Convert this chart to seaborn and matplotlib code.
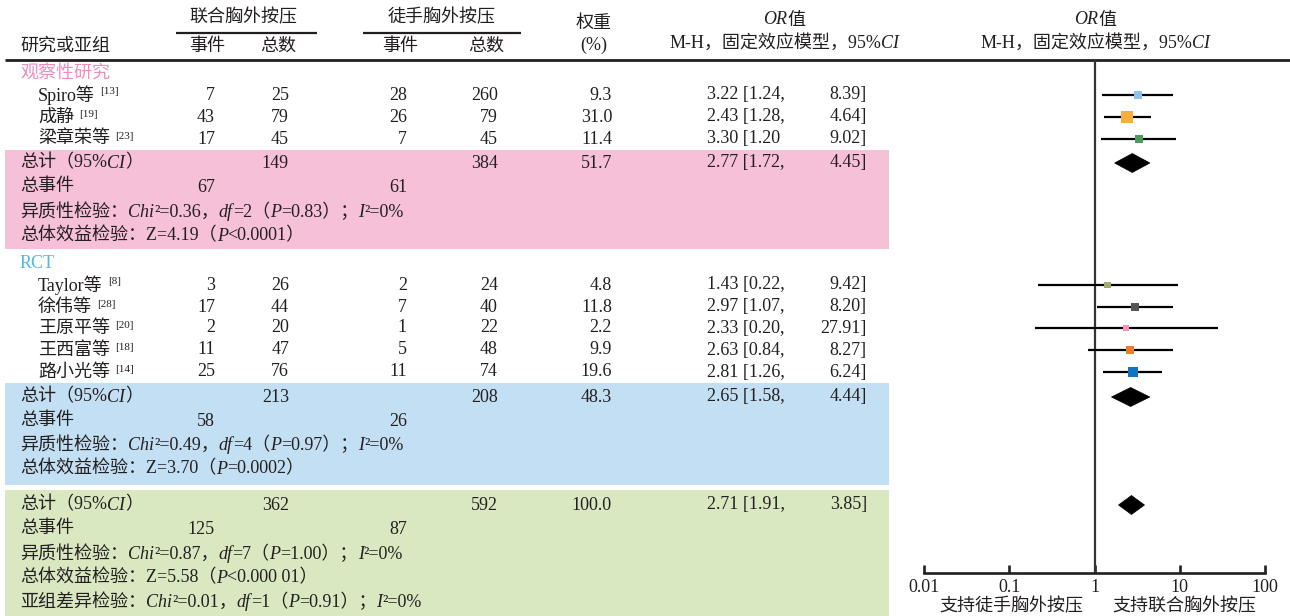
import numpy as np
import pandas as pd
import matplotlib
matplotlib.use("Agg")
import matplotlib.pyplot as plt
import seaborn as sns
from matplotlib.offsetbox import TextArea, HPacker, AnnotationBbox
from matplotlib.patches import Polygon, Rectangle

# ---------------- data ----------------
obs_names = ["Spiro等", "成静", "梁章荣等"]
obs_refs = ["[13]", "[19]", "[23]"]
obs_exp_events = [7, 43, 17]
obs_exp_total = [25, 79, 45]
obs_ctl_events = [28, 26, 7]
obs_ctl_total = [260, 79, 45]
obs_weight = [9.3, 31.0, 11.4]
obs_or = [3.22, 2.43, 3.30]
obs_lo = [1.24, 1.28, 1.20]
obs_hi = [8.39, 4.64, 9.02]

rct_names = ["Taylor等", "徐伟等", "王原平等", "王西富等", "路小光等"]
rct_refs = ["[8]", "[28]", "[20]", "[18]", "[14]"]
rct_exp_events = [3, 17, 2, 11, 25]
rct_exp_total = [26, 44, 20, 47, 76]
rct_ctl_events = [2, 7, 1, 5, 11]
rct_ctl_total = [24, 40, 22, 48, 74]
rct_weight = [4.8, 11.8, 2.2, 9.9, 19.6]
rct_or = [1.43, 2.97, 2.33, 2.63, 2.81]
rct_lo = [0.22, 1.07, 0.20, 0.84, 1.26]
rct_hi = [9.42, 8.20, 27.91, 8.27, 6.24]

# pooled results: observational, RCT, overall
sum_exp_total = [149, 213, 362]
sum_ctl_total = [384, 208, 592]
sum_exp_events = [67, 58, 125]
sum_ctl_events = [61, 26, 87]
sum_weight = [51.7, 48.3, 100.0]
sum_or = [2.77, 2.65, 2.71]
sum_lo = [1.72, 1.58, 1.91]
sum_hi = [4.45, 4.44, 3.85]
het_chi2 = ["0.36", "0.49", "0.87"]
het_df = [2, 4, 7]
het_p = ["0.83", "0.97", "1.00"]
het_i2 = [0, 0, 0]
eff_z = ["4.19", "3.70", "5.58"]
eff_p = ["<0.0001", "=0.0002", "<0.000 01"]
sub_chi2, sub_df, sub_p, sub_i2 = "0.01", 1, "0.91", 0

group_labels = ["观察性研究", "RCT"]
study_colors = ["#8cc3ea", "#f9ad3d", "#4c9b5c",
                "#a3ad6a", "#555555", "#f590c0", "#f27a2d", "#1473c0"]
x_ticks = [0.01, 0.1, 1, 10, 100]
x_ticklabels = ["0.01", "0.1", "1", "10", "100"]

# ---------------- style ----------------
sns.set_theme(style="white")
FAM = ["Liberation Serif", "Noto Sans CJK SC"]
plt.rcParams["font.family"] = FAM
plt.rcParams["axes.unicode_minus"] = False
TXT = "#231f20"
FS = 13

W, H = 1290, 616
fig = plt.figure(figsize=(W / 100, H / 100), dpi=100)
ax = fig.add_axes([0, 0, 1, 1])
ax.set_xlim(0, W)
ax.set_ylim(H, 0)
ax.axis("off")

# column anchors (layout)
X_NAME, X_STUDY = 20, 38
X_E1, X_T1, X_E2, X_T2 = 215, 289, 407, 498
X_W, X_CI_L, X_CI_R = 612, 707, 867

# row layout (y from top)
Y_LINE = 60
obs_label_y, rct_label_y = 73, 264
obs_rows_y = [95, 117, 139]
rct_rows_y = [285, 307, 328, 350, 372]
box_spans = [(150, 249), (383, 485), (490, 616)]
box_colors = ["#f5c0d8", "#c3dff3", "#d9e8c1"]
stat_rows_y = [[163, 187, 212, 236], [397, 421, 445, 469], [505, 529, 554, 578, 602]]


def txt(x, y, s, ha="left", **kw):
    kw.setdefault("size", FS)
    kw.setdefault("color", TXT)
    return ax.text(x, y, s, ha=ha, va="center", **kw)


def rich(x, y, parts, align=0.0, size=FS):
    kids = [TextArea(s, textprops=dict(family=FAM, size=size, color=TXT,
                                       fontstyle="italic" if it else "normal"))
            for s, it in parts]
    box = HPacker(children=kids, align="baseline", pad=0, sep=0)
    ab = AnnotationBbox(box, (x, y), xycoords="data", box_alignment=(align, 0.5),
                        frameon=False, pad=0)
    ax.add_artist(ab)


def ci_text(y, o, lo, hi, sep=","):
    txt(X_CI_L, y, f"{o:.2f} [{lo:.2f}{sep}")
    txt(X_CI_R, y, f"{hi:.2f}]", ha="right")


# shaded summary blocks
for (y0, y1), c in zip(box_spans, box_colors):
    ax.add_patch(Rectangle((5, y0), 884, y1 - y0, facecolor=c, edgecolor="none", zorder=0))

# header
txt(243, 18, "联合胸外按压", ha="center")
txt(442, 18, "徒手胸外按压", ha="center")
ax.plot([176, 317], [33, 33], color=TXT, lw=1.6, solid_capstyle="butt")
ax.plot([363, 521], [33, 33], color=TXT, lw=1.6, solid_capstyle="butt")
txt(X_NAME, 46, "研究或亚组")
for xc, s in [(207, "事件"), (278, "总数"), (400, "事件"), (486, "总数")]:
    txt(xc, 46, s, ha="center")
txt(594, 23, "权重", ha="center")
txt(594, 45, "(%)", ha="center")
for xc in (784, 1095):
    rich(xc, 20, [("OR", True), ("值", False)], align=0.5)
    rich(xc, 43, [("M-H，固定效应模型，95%", False), ("CI", True)], align=0.5)
ax.plot([5, W], [Y_LINE, Y_LINE], color=TXT, lw=2.0, solid_capstyle="butt")

# study rows
groups = [
    (group_labels[0], "#f08cbf", obs_label_y, obs_rows_y, obs_names, obs_refs, obs_exp_events,
     obs_exp_total, obs_ctl_events, obs_ctl_total, obs_weight, obs_or, obs_lo, obs_hi),
    (group_labels[1], "#4fb9e6", rct_label_y, rct_rows_y, rct_names, rct_refs, rct_exp_events,
     rct_exp_total, rct_ctl_events, rct_ctl_total, rct_weight, rct_or, rct_lo, rct_hi),
]
for (lab, lc, ly, rows, names, refs, e1, t1, e2, t2, wt, o, lo, hi) in groups:
    txt(X_NAME, ly, lab, color=lc)
    for i, y in enumerate(rows):
        t = txt(X_STUDY, y, names[i])
        ax.annotate(refs[i], xy=(1, 1), xycoords=t, xytext=(4, -1),
                    textcoords="offset points", ha="left", va="top", size=8, color=TXT)
        txt(X_E1, y, str(e1[i]), ha="right")
        txt(X_T1, y, str(t1[i]), ha="right")
        txt(X_E2, y, str(e2[i]), ha="right")
        txt(X_T2, y, str(t2[i]), ha="right")
        txt(X_W, y, f"{wt[i]:.1f}", ha="right")
        ci_text(y, o[i], lo[i], hi[i], sep="" if names[i] == "梁章荣等" else ",")

# pooled blocks
for g in range(3):
    ys = stat_rows_y[g]
    rich(X_NAME, ys[0], [("总计（95%", False), ("CI", True), ("）", False)])
    txt(X_T1, ys[0], str(sum_exp_total[g]), ha="right")
    txt(X_T2, ys[0], str(sum_ctl_total[g]), ha="right")
    txt(X_W, ys[0], f"{sum_weight[g]:.1f}", ha="right")
    ci_text(ys[0], sum_or[g], sum_lo[g], sum_hi[g])
    txt(X_NAME, ys[1], "总事件")
    txt(X_E1, ys[1], str(sum_exp_events[g]), ha="right")
    txt(X_E2, ys[1], str(sum_ctl_events[g]), ha="right")
    rich(X_NAME, ys[2], [("异质性检验：", False), ("Chi", True), (f"²={het_chi2[g]}，", False),
                         ("df", True), (f"={het_df[g]}（", False), ("P", True),
                         (f"={het_p[g]}）；", False), ("I", True), (f"²={het_i2[g]}%", False)])
    rich(X_NAME, ys[3], [(f"总体效益检验：Z={eff_z[g]}（", False), ("P", True),
                         (f"{eff_p[g]}）", False)])
rich(X_NAME, stat_rows_y[2][4], [("亚组差异检验：", False), ("Chi", True), (f"²={sub_chi2}，", False),
                                 ("df", True), (f"={sub_df}（", False), ("P", True),
                                 (f"={sub_p}）；", False), ("I", True), (f"²={sub_i2}%", False)])

# ---------------- forest panel ----------------
FX0, FX1, FY_AXIS = 923.7, 1265.3, 573
fa = fig.add_axes([FX0 / W, (H - FY_AXIS) / H, (FX1 - FX0) / W, (FY_AXIS - Y_LINE) / H])
fa.set_facecolor("none")
fa.set_xscale("log")
fa.set_xlim(x_ticks[0], x_ticks[-1])
fa.set_ylim(FY_AXIS, Y_LINE)
for s in ("top", "left", "right"):
    fa.spines[s].set_visible(False)
fa.spines["bottom"].set_linewidth(1.9)
fa.spines["bottom"].set_color(TXT)
fa.set_xticks(x_ticks)
fa.set_xticklabels(x_ticklabels)
fa.minorticks_off()
fa.set_yticks([])
fa.tick_params(axis="x", direction="in", length=6, width=1.9, color=TXT,
               labelsize=FS, labelcolor=TXT, pad=4, bottom=True)
fa.axvline(1, color="#333333", lw=1.6, zorder=1)

studies = pd.DataFrame({
    "study": obs_names + rct_names,
    "y": obs_rows_y + rct_rows_y,
    "or": obs_or + rct_or,
    "lo": obs_lo + rct_lo,
    "hi": obs_hi + rct_hi,
    "weight": obs_weight + rct_weight,
})
fa.hlines(studies["y"], studies["lo"], studies["hi"], color="black", lw=1.6, zorder=2)
sns.scatterplot(data=studies, x="or", y="y", hue="study", palette=study_colors,
                size="weight", sizes=(19.6, 76), size_norm=(2.2, 31.0), marker="s",
                linewidth=0, legend=False, ax=fa, zorder=3, clip_on=False)
fa.set_xlabel("")
fa.set_ylabel("")

HALF = 9.5
for g in range(3):
    y = stat_rows_y[g][0]
    fa.add_patch(Polygon([(sum_lo[g], y), (sum_or[g], y - HALF), (sum_hi[g], y),
                          (sum_or[g], y + HALF)], closed=True, facecolor="black",
                         edgecolor="black", lw=0.5, zorder=3))

fa.annotate("支持徒手胸外按压", xy=(1, 0), xycoords=("data", "axes fraction"),
            xytext=(-8, -24), textcoords="offset points", ha="right", va="center",
            size=FS, color=TXT, annotation_clip=False)
fa.annotate("支持联合胸外按压", xy=(1, 0), xycoords=("data", "axes fraction"),
            xytext=(13, -24), textcoords="offset points", ha="left", va="center",
            size=FS, color=TXT, annotation_clip=False)

fig.savefig("out.png", dpi=100)
